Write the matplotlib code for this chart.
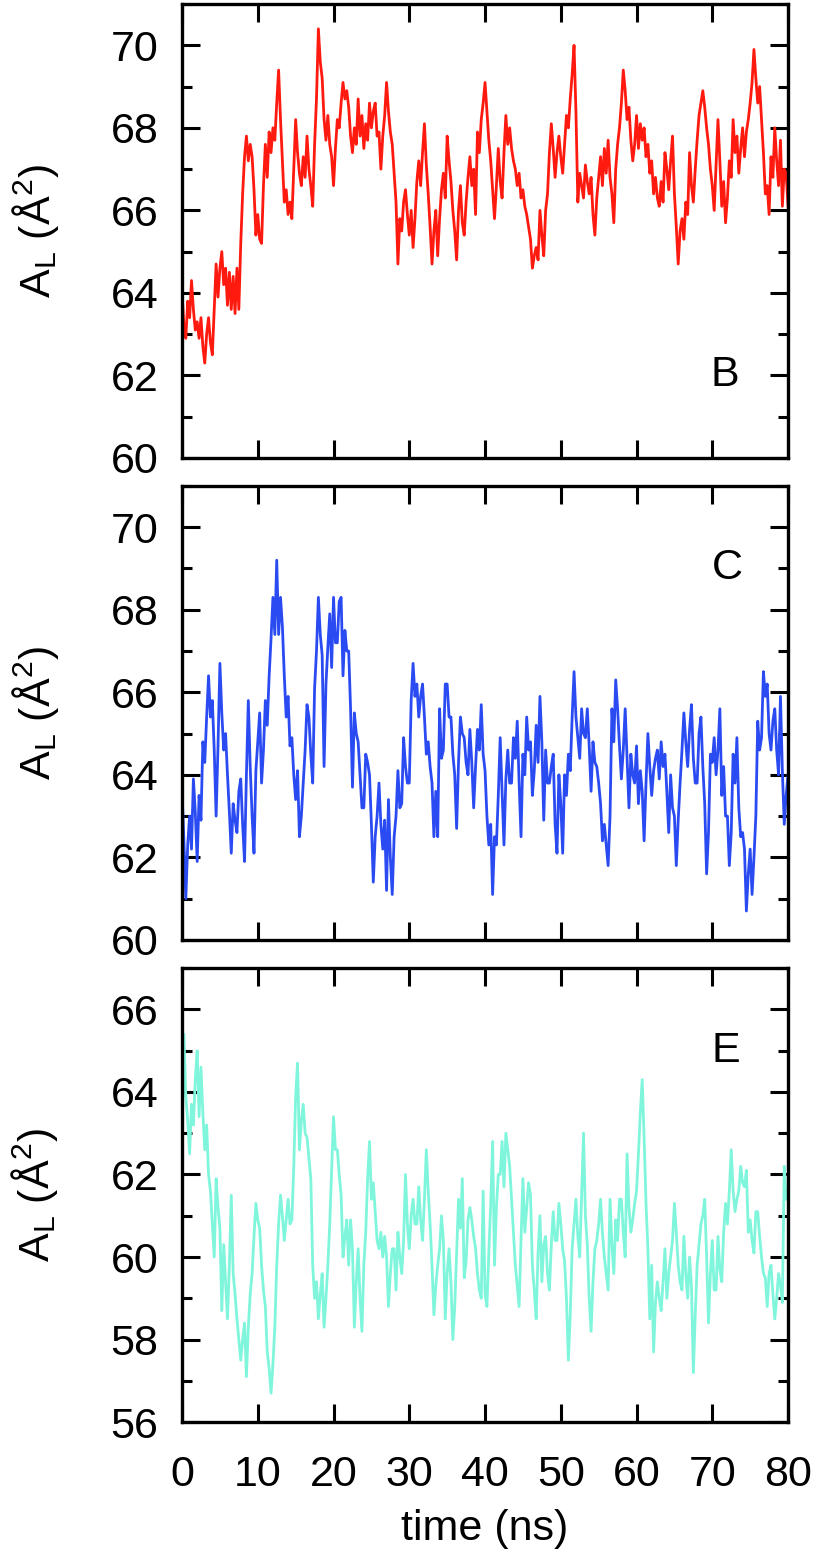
import numpy as np
import matplotlib
matplotlib.use("Agg")
import matplotlib.pyplot as plt
from matplotlib.ticker import MultipleLocator

plt.rcParams['font.family'] = ['Liberation Sans', 'DejaVu Sans']
plt.rcParams['mathtext.default'] = 'regular'

# time axis, 0.25 ns sampling
time_ns = np.arange(0, 80.001, 0.25)

# panel B (red)
area_B = [
    64.0, 63.2, 62.9, 63.8, 63.4, 64.3, 63.6, 63.1,
    63.3, 62.9, 63.4, 62.7, 62.3, 63.0, 63.4, 62.8,
    62.5, 63.6, 64.7, 63.9, 64.6, 65.0, 64.2, 64.6,
    63.7, 64.5, 63.6, 64.4, 63.5, 64.6, 63.6, 65.2,
    66.4, 67.3, 67.8, 67.2, 67.6, 67.3, 66.5, 65.4,
    65.9, 65.3, 65.2, 66.6, 67.6, 66.8, 67.9, 67.4,
    68.0, 67.7, 68.6, 69.4, 68.2, 67.2, 66.2, 66.5,
    65.9, 66.2, 65.8, 67.0, 68.2, 67.4, 66.9, 66.6,
    67.3, 66.8, 67.8, 67.0, 66.6, 66.1, 67.6, 68.7,
    70.4, 69.6, 69.2, 68.2, 67.7, 68.3, 67.6, 67.3,
    66.6, 67.5, 68.2, 68.0, 68.6, 69.1, 68.7, 68.9,
    68.5, 67.8, 67.4, 68.0, 67.6, 68.7, 67.8, 68.3,
    67.5, 68.1, 67.7, 68.6, 68.0, 68.4, 68.6, 67.8,
    67.9, 67.0, 67.8, 68.3, 69.1, 68.4, 67.9, 67.6,
    66.9, 66.2, 64.7, 65.8, 65.5, 66.2, 66.5, 65.9,
    65.4, 66.0, 65.1, 65.8, 66.7, 67.2, 66.6, 67.4,
    68.1, 67.1, 66.4, 65.6, 64.7, 65.5, 66.0, 64.9,
    65.8, 66.5, 66.9, 66.3, 67.8, 67.2, 66.7, 66.0,
    65.5, 64.8, 66.0, 66.6, 65.7, 65.4, 66.2, 66.8,
    67.3, 66.6, 67.0, 65.9, 67.9, 67.4, 68.2, 68.6,
    69.1, 68.4, 67.7, 67.2, 66.5, 65.8, 66.6, 67.5,
    66.7, 66.3, 67.4, 68.3, 67.6, 68.0, 67.5, 67.2,
    67.0, 66.6, 66.9, 66.3, 66.5, 66.1, 65.9, 65.6,
    65.3, 64.6, 64.9, 65.1, 64.8, 66.0, 65.4, 64.9,
    66.0, 66.4, 67.4, 68.1, 67.5, 66.8, 67.4, 67.8,
    67.3, 66.9, 67.6, 68.3, 68.0, 68.7, 69.3, 70.0,
    68.4, 66.2, 66.9, 66.6, 66.3, 67.1, 66.7, 66.4,
    66.8, 65.9, 65.4, 66.3, 66.8, 67.3, 66.6, 67.5,
    66.9, 67.7, 66.8, 66.4, 65.7, 67.0, 67.6, 68.0,
    68.6, 69.4, 68.9, 68.2, 68.5, 67.7, 67.2, 67.6,
    68.3, 67.5, 68.1, 67.7, 68.0, 67.3, 67.6, 66.9,
    67.2, 66.4, 66.8, 66.3, 66.1, 66.7, 66.2, 67.4,
    67.0, 66.5, 67.2, 67.8, 66.4, 65.6, 64.7, 65.5,
    65.8, 65.3, 66.2, 65.9, 67.4, 66.6, 66.2, 67.0,
    67.7, 68.3, 68.6, 68.9, 68.5, 68.0, 67.6, 67.0,
    66.6, 66.0, 67.1, 68.2, 67.2, 66.1, 66.7, 65.7,
    66.3, 67.2, 66.8, 68.2, 67.4, 67.8, 66.9, 67.5,
    68.0, 67.3, 67.9, 68.2, 68.6, 69.1, 69.9, 69.2,
    68.6, 69.0, 68.2, 67.4, 66.4, 66.6, 65.9, 67.3,
    66.8, 68.0, 67.2, 66.6, 67.7, 66.1, 67.0, 66.9, 66.1,
]

# panel C (blue)
area_C = [
    63.6, 62.4, 61.0, 62.3, 63.0, 62.2, 63.9, 63.1,
    61.9, 63.5, 62.9, 64.8, 64.3, 65.4, 66.4, 65.4,
    65.8, 64.6, 63.0, 64.7, 66.7, 65.5, 64.6, 65.0,
    64.0, 63.1, 62.1, 63.3, 62.9, 62.6, 63.6, 63.9,
    62.8, 61.9, 64.0, 65.8, 64.2, 63.0, 62.1, 64.1,
    64.8, 65.5, 63.8, 64.6, 65.8, 65.2, 66.4, 67.3,
    68.3, 67.4, 69.2, 67.4, 68.3, 67.6, 66.4, 65.4,
    65.9, 64.7, 64.9, 64.0, 63.4, 64.1, 62.5, 63.0,
    63.8, 64.6, 65.7, 65.4, 64.5, 63.8, 66.1, 67.0,
    68.3, 67.4, 66.9, 64.2, 66.2, 67.1, 67.9, 66.6,
    68.3, 67.2, 67.2, 68.2, 68.3, 66.4, 67.5, 67.0,
    67.0, 65.6, 63.7, 65.5, 65.0, 64.8, 64.0, 63.2,
    63.2, 64.5, 64.3, 64.0, 62.8, 61.4, 62.5, 63.0,
    63.8, 62.8, 62.2, 62.9, 61.2, 63.4, 62.0, 61.1,
    62.5, 63.0, 64.1, 63.2, 63.3, 64.9, 64.2, 63.8,
    63.8, 65.8, 66.7, 65.9, 66.2, 65.4, 65.9, 66.2,
    65.4, 64.5, 64.8, 64.2, 63.8, 62.5, 63.6, 62.5,
    65.6, 64.4, 64.6, 66.2, 66.2, 65.4, 65.4, 64.5,
    64.0, 62.7, 64.3, 65.4, 65.0, 64.9, 64.3, 64.0,
    65.1, 64.3, 63.2, 64.2, 65.1, 64.6, 65.7, 64.5,
    64.1, 63.0, 62.3, 62.8, 61.1, 62.5, 62.3, 63.5,
    64.9, 63.6, 62.3, 63.9, 64.6, 63.8, 63.8, 64.9,
    64.4, 65.3, 63.8, 62.5, 64.5, 64.0, 65.4, 64.6,
    64.8, 63.5, 64.1, 65.2, 64.3, 65.9, 64.8, 62.9,
    64.6, 63.8, 63.8, 64.2, 64.5, 62.8, 62.1, 64.0,
    63.3, 62.1, 64.0, 63.5, 64.5, 64.1, 65.4, 66.5,
    65.4, 64.9, 64.4, 65.6, 65.0, 64.9, 65.6, 64.7,
    63.6, 64.8, 64.3, 64.2, 63.8, 63.3, 62.4, 62.8,
    62.3, 61.8, 63.0, 65.6, 64.8, 66.3, 65.6, 64.7,
    63.9, 64.6, 65.6, 64.4, 63.2, 64.5, 64.0, 63.8,
    64.7, 63.3, 64.1, 63.6, 62.4, 63.8, 65.0, 64.2,
    63.5, 64.1, 64.4, 64.6, 63.9, 64.8, 64.2, 64.5,
    63.6, 62.6, 64.0, 63.2, 63.0, 61.8, 62.9, 63.8,
    64.6, 65.5, 64.8, 64.2, 65.1, 65.7, 64.4, 63.8,
    63.8, 65.0, 65.4, 64.2, 63.3, 61.6, 62.6, 64.5,
    64.3, 64.9, 64.0, 64.6, 65.6, 63.5, 64.2, 63.0,
    63.0, 61.8, 62.6, 64.5, 63.8, 64.9, 63.2, 62.5,
    62.6, 62.2, 60.7, 61.6, 62.2, 61.1, 62.0, 63.0,
    65.3, 64.6, 64.9, 66.5, 65.9, 66.2, 65.0, 64.6,
    65.3, 65.6, 64.6, 64.0, 65.9, 64.1, 62.8, 63.5, 64.0,
]

# panel E (aquamarine)
area_E = [
    62.8, 65.4, 63.9, 63.3, 62.5, 63.7, 63.2, 64.3,
    65.0, 63.4, 64.6, 63.5, 62.6, 63.2, 62.0, 61.6,
    60.8, 60.0, 61.9, 61.2, 60.7, 58.7, 60.3, 59.4,
    58.5, 59.8, 61.5, 59.6, 59.1, 58.5, 58.0, 57.5,
    58.0, 58.4, 57.1, 58.3, 59.1, 59.6, 60.5, 61.3,
    60.9, 60.7, 59.8, 59.2, 58.8, 57.7, 57.3, 56.7,
    57.4, 58.3, 59.8, 60.8, 61.5, 61.0, 60.4, 60.9,
    61.4, 60.8, 60.9, 62.2, 63.9, 64.7, 62.6, 63.3,
    63.7, 63.0, 62.9, 62.4, 61.9, 59.8, 59.0, 59.4,
    58.5, 59.1, 59.6, 58.3, 59.0, 59.8, 60.8, 62.1,
    63.4, 62.6, 62.6, 62.0, 61.5, 60.0, 60.5, 60.9,
    59.8, 60.9, 60.2, 58.3, 59.4, 60.2, 59.0, 58.2,
    59.8, 60.6, 61.9, 62.8, 61.4, 61.8, 61.1, 60.4,
    60.2, 60.6, 60.0, 60.5, 60.0, 58.8, 59.6, 60.2,
    60.2, 59.2, 60.6, 60.0, 59.6, 60.4, 62.0, 60.8,
    60.2, 61.0, 61.4, 60.8, 60.8, 61.7, 60.9, 60.4,
    61.4, 62.6, 61.6, 60.8, 59.8, 58.6, 59.3, 59.8,
    60.2, 61.0, 60.4, 58.5, 59.6, 60.2, 59.4, 58.0,
    58.8, 60.1, 61.4, 60.7, 61.9, 59.5, 59.9, 60.9,
    61.2, 60.9, 60.5, 60.2, 59.6, 59.2, 59.0, 61.6,
    59.1, 58.8, 60.1, 61.3, 62.8, 59.8, 61.2, 62.0,
    62.0, 62.8, 61.7, 63.0, 62.6, 62.2, 61.4, 60.6,
    59.8, 59.3, 58.8, 60.4, 61.9, 60.6, 61.2, 61.8,
    61.5, 59.8, 59.2, 58.5, 60.1, 61.0, 59.4, 60.3,
    60.5, 59.6, 59.2, 60.3, 61.1, 60.4, 60.4, 61.3,
    60.8, 60.2, 59.9, 59.0, 57.5, 58.6, 60.2, 60.8,
    61.4, 60.5, 60.0, 61.5, 63.0, 61.0, 60.3, 59.0,
    58.2, 59.4, 60.2, 60.4, 60.8, 61.4, 60.6, 60.0,
    59.6, 59.2, 61.4, 60.3, 59.6, 60.9, 60.4, 61.4,
    61.4, 60.6, 60.0, 62.5, 61.2, 60.6, 60.9, 61.3,
    61.6, 62.5, 63.5, 64.3, 62.9, 61.3, 60.2, 58.5,
    59.8, 57.7, 58.9, 59.4, 59.0, 58.7, 59.4, 60.2,
    59.0, 59.6, 60.0, 60.4, 61.3, 60.6, 59.8, 59.4,
    59.2, 60.5, 59.6, 59.0, 60.0, 59.3, 57.2, 58.6,
    59.8, 60.3, 60.8, 61.0, 61.4, 60.0, 58.4, 59.6,
    60.4, 59.2, 59.2, 60.5, 59.7, 59.4, 60.6, 61.3,
    60.8, 61.6, 62.6, 61.6, 61.1, 61.4, 61.6, 62.2,
    61.8, 61.7, 62.1, 60.6, 60.9, 60.4, 60.1, 61.1,
    61.1, 60.5, 60.0, 59.6, 59.5, 58.8, 59.6, 59.8,
    59.1, 58.5, 59.0, 59.6, 59.3, 58.9, 62.2, 61.4, 61.4,
]

panel_names = ['B', 'C', 'E']
panel_series = [area_B, area_C, area_E]
panel_colors = ['#ff1a0f', '#2b4bf2', '#7ff5dc']
panel_ylims = [(60, 71), (60, 71), (56, 67)]
panel_tag_pos = [(71.7, 62.0), (72.0, 69.0), (71.8, 65.0)]

fig = plt.figure(figsize=(8.13, 15.52), dpi=100)
# [left, bottom, width, height] in figure fractions
boxes = [
    [0.2239, 0.7049, 0.7454, 0.2925],
    [0.2239, 0.3944, 0.7454, 0.2925],
    [0.2239, 0.0837, 0.7454, 0.2925],
]

axes = []
for i in range(3):
    ax = fig.add_axes(boxes[i])
    ax.plot(time_ns, panel_series[i], color=panel_colors[i], lw=2.0)
    ax.set_xlim(0, 80)
    ax.set_ylim(*panel_ylims[i])
    ax.xaxis.set_major_locator(MultipleLocator(10))
    ax.yaxis.set_major_locator(MultipleLocator(2))
    ax.yaxis.set_minor_locator(MultipleLocator(1))
    ax.tick_params(which='both', direction='in', top=True, right=True, width=2.2)
    ax.tick_params(which='major', length=13, labelsize=31)
    ax.tick_params(axis='y', which='major', pad=17)
    ax.tick_params(axis='x', which='major', pad=24)
    ax.tick_params(which='minor', length=7)
    for s in ax.spines.values():
        s.set_linewidth(2.4)
    ax.set_ylabel('A$_L$ (Å$^2$)', fontsize=31, labelpad=36)
    ax.text(panel_tag_pos[i][0], panel_tag_pos[i][1], panel_names[i],
            fontsize=31, ha='center', va='center')
    if i < 2:
        ax.set_xticklabels([])
    axes.append(ax)

axes[2].set_xlabel('time (ns)', fontsize=31, labelpad=10)

fig.savefig('out.png', dpi=100)
